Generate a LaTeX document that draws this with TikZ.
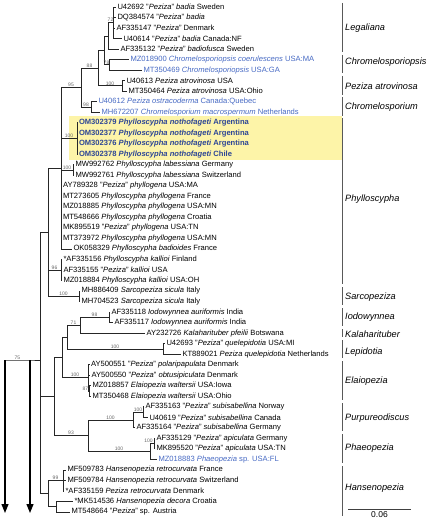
\documentclass[tikz,border=0pt]{standalone}
\usepackage{fontspec}
\setmainfont{Liberation Sans}
\usepackage{xcolor}
\usepackage{tikz}
\usetikzlibrary{arrows.meta}
\definecolor{taxblue}{RGB}{70,105,195}
\definecolor{newblue}{RGB}{45,70,150}
\definecolor{hlyellow}{RGB}{253,244,168}

\begin{document}
\begin{tikzpicture}[x=1pt, y=-1pt,
      br/.style={line width=0.8pt, draw=black!85},
      leaf/.style={anchor=west, inner xsep=1.3pt, inner ysep=0.4pt,
                   font=\fontsize{7.6}{8}\selectfont},
      bleaf/.style={leaf, text=taxblue},
      nleaf/.style={leaf, text=newblue, font=\fontsize{7.6}{8}\selectfont\bfseries},
      bs/.style={anchor=south, inner sep=0.6pt, text=black!60,
                 font=\fontsize{5}{5}\selectfont},
      clade/.style={anchor=west, inner sep=1pt, font=\fontsize{9.2}{10}\selectfont\itshape},
      cbar/.style={line width=0.8pt, draw=black!65},
      arr/.style={-{Triangle[width=7pt,length=9pt]}, line width=1.2pt}
    ]
    \useasboundingbox (0,0) rectangle (430,521);
    \fill[hlyellow] (69,116) rectangle (342,160);

    % internal nodes
    \coordinate (n72)   at (113,22.8);
    \coordinate (nLeg)  at (108,36.0);
    \coordinate (nChro) at (109,64.9);
    \coordinate (nLC)   at (104,50.4);
    \coordinate (nAtro) at (122,85.9);
    \coordinate (n88)   at (98,68.2);
    \coordinate (nCm)   at (91,107.0);
    \coordinate (n95)   at (81,87.6);
    \coordinate (nNoth) at (77,138.5);
    \coordinate (nLab)  at (73,170.1);
    \coordinate (nPH)   at (61,168.3);
    \coordinate (nKal)  at (61,270.0);
    \coordinate (nSar)  at (79,296.3);
    \coordinate (nPS)   at (48,232.3);
    \coordinate (nIod)  at (109,317.4);
    \coordinate (nIK)   at (80,325.2);
    \coordinate (nLep)  at (163,348.9);
    \coordinate (nILK)  at (67,337.0);
    \coordinate (nE2)   at (89.5,391.0);
    \coordinate (nE)    at (88,377.8);
    \coordinate (nX)    at (62,357.4);
    \coordinate (nP1)   at (143,412.0);
    \coordinate (nPur)  at (133,419.9);
    \coordinate (nPh1)  at (154,443.6);
    \coordinate (nPha)  at (150,451.5);
    \coordinate (nPP)   at (88,435.7);
    \coordinate (nY)    at (54,396.6);
    \coordinate (nH1)   at (63,480.4);
    \coordinate (nH2)   at (56,506.7);
    \coordinate (nHan)  at (48,493.6);
    \coordinate (nIn)   at (40,360.0);
    \coordinate (nR)    at (30,360.0);
    \coordinate (nRoot) at (5,360.0);
    \coordinate (aR)    at (30,513);
    \coordinate (aRoot) at (5,513);

    % taxa
    \node[leaf]  (l1)  at (116,7.0)   {U42692 "\textit{Peziza}" \textit{badia} Sweden};
    \node[leaf]  (l2)  at (116,17.5)  {DQ384574 "\textit{Peziza}" \textit{badia}};
    \node[leaf]  (l3)  at (115,28.0)  {AF335147 "\textit{Peziza}" Denmark};
    \node[leaf]  (l4)  at (122,38.6)  {U40614 "\textit{Peziza}" \textit{badia} Canada:NF};
    \node[leaf]  (l5)  at (119,49.1)  {AF335132 "\textit{Peziza}" \textit{badiofusca} Sweden};
    \node[bleaf] (l6)  at (129,59.6)  {MZ018900 \textit{Chromelosporiopsis coerulescens} USA:MA};
    \node[bleaf] (l7)  at (142,70.1)  {MT350469 \textit{Chromelosporiopsis} USA:GA};
    \node[leaf]  (l8)  at (125,80.6)  {U40613 \textit{Peziza atrovinosa} USA};
    \node[leaf]  (l9)  at (127,91.2)  {MT350464 \textit{Peziza atrovinosa} USA:Ohio};
    \node[bleaf] (l10) at (97,101.7)  {U40612 \textit{Peziza ostracoderma} Canada:Quebec};
    \node[bleaf] (l11) at (100,112.2) {MH672207 \textit{Chromelosporium macrospermum} Netherlands};
    \node[nleaf] (l12) at (77.5,122.7) {OM302379 \textit{Phylloscypha nothofageti} Argentina};
    \node[nleaf] (l13) at (77.5,133.2) {OM302377 \textit{Phylloscypha nothofageti} Argentina};
    \node[nleaf] (l14) at (77.5,143.8) {OM302376 \textit{Phylloscypha nothofageti} Argentina};
    \node[nleaf] (l15) at (77.5,154.3) {OM302378 \textit{Phylloscypha nothofageti} Chile};
    \node[leaf]  (l16) at (74,164.8)  {MW992762 \textit{Phylloscypha labessiana} Germany};
    \node[leaf]  (l17) at (74,175.3)  {MW992761 \textit{Phylloscypha labessiana} Switzerland};
    \node[leaf]  (l18) at (61.5,185.8) {AY789328 "\textit{Peziza}" \textit{phyllogena} USA:MA};
    \node[leaf]  (l19) at (61.5,196.4) {MT273605 \textit{Phylloscypha phyllogena} France};
    \node[leaf]  (l20) at (61.5,206.9) {MZ018885 \textit{Phylloscypha phyllogena} USA:MN};
    \node[leaf]  (l21) at (61.5,217.4) {MT548666 \textit{Phylloscypha phyllogena} Croatia};
    \node[leaf]  (l22) at (61.5,227.9) {MK895519 "\textit{Peziza}" \textit{phyllogena} USA:TN};
    \node[leaf]  (l23) at (61.5,238.4) {MT373972 \textit{Phylloscypha phyllogena} USA:MN};
    \node[leaf]  (l24) at (72,249.0)  {OK058329 \textit{Phylloscypha badioides} France};
    \node[leaf]  (l25) at (62,259.5)  {*AF335156 \textit{Phylloscypha kallioi} Finland};
    \node[leaf]  (l26) at (62,270.0)  {AF335155 "\textit{Peziza}" \textit{kallioi} USA};
    \node[leaf]  (l27) at (62,280.5)  {MZ018884 \textit{Phylloscypha kallioi} USA:OH};
    \node[leaf]  (l28) at (80,291.0)  {MH886409 \textit{Sarcopeziza sicula} Italy};
    \node[leaf]  (l29) at (80,301.6)  {MH704523 \textit{Sarcopeziza sicula} Italy};
    \node[leaf]  (l30) at (110,312.1) {AF335118 \textit{Iodowynnea auriformis} India};
    \node[leaf]  (l31) at (113,322.6) {AF335117 \textit{Iodowynnea auriformis} India};
    \node[leaf]  (l32) at (145,333.1) {AY232726 \textit{Kalaharituber pfeilii} Botswana};
    \node[leaf]  (l33) at (165,343.6) {U42693 "\textit{Peziza}" \textit{quelepidotia} USA:MI};
    \node[leaf]  (l34) at (181,354.2) {KT889021 \textit{Peziza quelepidotia} Netherlands};
    \node[leaf]  (l35) at (89.5,364.7) {AY500551 "\textit{Peziza}" \textit{polaripapulata} Denmark};
    \node[leaf]  (l36) at (90,375.2)  {AY500550 "\textit{Peziza}" \textit{obtusipiculata} Denmark};
    \node[leaf]  (l37) at (91,385.7)  {MZ018857 \textit{Elaiopezia waltersii} USA:Iowa};
    \node[leaf]  (l38) at (91,396.2)  {MT350468 \textit{Elaiopezia waltersii} USA:Ohio};
    \node[leaf]  (l39) at (144,406.8) {AF335163 "\textit{Peziza}" \textit{subisabellina} Norway};
    \node[leaf]  (l40) at (148,417.3) {U40619 "\textit{Peziza}" \textit{subisabellina} Canada};
    \node[leaf]  (l41) at (135,427.8) {AF335164 "\textit{Peziza}" \textit{subisabellina} Germany};
    \node[leaf]  (l42) at (155,438.3) {AF335129 "\textit{Peziza}" \textit{apiculata} Germany};
    \node[leaf]  (l43) at (155,448.8) {MK895520 "\textit{Peziza}" \textit{apiculata} USA:TN};
    \node[bleaf] (l44) at (157,459.4) {MZ018883 \textit{Phaeopezia} sp. USA:FL};
    \node[leaf]  (l45) at (66,469.9)  {MF509783 \textit{Hansenopezia retrocurvata} France};
    \node[leaf]  (l46) at (66,480.4)  {MF509784 \textit{Hansenopezia retrocurvata} Switzerland};
    \node[leaf]  (l47) at (64,490.9)  {*AF335159 \textit{Peziza retrocurvata} Denmark};
    \node[leaf]  (l48) at (73,501.4)  {*MK514536 \textit{Hansenopezia decora} Croatia};
    \node[leaf]  (l49) at (70,512.0)  {MT548664 "\textit{Peziza}" sp. Austria};

    % branches
    \foreach \t in {l1,l2,l3,l4} \draw[br] (n72) |- (\t.west);
    \draw[br] (nLeg) |- (n72);
    \draw[br] (nLeg) |- (l5.west);
    \draw[br] (nChro) |- (l6.west);
    \draw[br] (nChro) |- (l7.west);
    \draw[br] (nLC) |- (nLeg);
    \draw[br] (nLC) |- (nChro);
    \draw[br] (nAtro) |- (l8.west);
    \draw[br] (nAtro) |- (l9.west);
    \draw[br] (n88) |- (nLC);
    \draw[br] (n88) |- (nAtro);
    \draw[br] (nCm) |- (l10.west);
    \draw[br] (nCm) |- (l11.west);
    \draw[br] (n95) |- (n88);
    \draw[br] (n95) |- (nCm);
    \foreach \t in {l12,l13,l14,l15} \draw[br] (nNoth) |- (\t.west);
    \draw[br] (nLab) |- (l16.west);
    \draw[br] (nLab) |- (l17.west);
    \draw[br] (nPH) |- (n95);
    \draw[br] (nPH) |- (nNoth);
    \draw[br] (nPH) |- (nLab);
    \foreach \t in {l18,l19,l20,l21,l22,l23,l24} \draw[br] (nPH) |- (\t.west);
    \foreach \t in {l25,l26,l27} \draw[br] (nKal) |- (\t.west);
    \draw[br] (nSar) |- (l28.west);
    \draw[br] (nSar) |- (l29.west);
    \draw[br] (nPS) |- (nPH);
    \draw[br] (nPS) |- (nKal);
    \draw[br] (nPS) |- (nSar);
    \draw[br] (nIod) |- (l30.west);
    \draw[br] (nIod) |- (l31.west);
    \draw[br] (nIK) |- (nIod);
    \draw[br] (nIK) |- (l32.west);
    \draw[br] (nLep) |- (l33.west);
    \draw[br] (nLep) |- (l34.west);
    \draw[br] (nILK) |- (nIK);
    \draw[br] (nILK) |- (nLep);
    \draw[br] (nE2) |- (l37.west);
    \draw[br] (nE2) |- (l38.west);
    \draw[br] (nE) |- (l35.west);
    \draw[br] (nE) |- (l36.west);
    \draw[br] (nE) |- (nE2);
    \draw[br] (nX) |- (nILK);
    \draw[br] (nX) |- (nE);
    \draw[br] (nP1) |- (l39.west);
    \draw[br] (nP1) |- (l40.west);
    \draw[br] (nPur) |- (nP1);
    \draw[br] (nPur) |- (l41.west);
    \draw[br] (nPh1) |- (l42.west);
    \draw[br] (nPh1) |- (l43.west);
    \draw[br] (nPha) |- (nPh1);
    \draw[br] (nPha) |- (l44.west);
    \draw[br] (nPP) |- (nPur);
    \draw[br] (nPP) |- (nPha);
    \draw[br] (nY) |- (nX);
    \draw[br] (nY) |- (nPP);
    \foreach \t in {l45,l46,l47} \draw[br] (nH1) |- (\t.west);
    \draw[br] (nH2) |- (l48.west);
    \draw[br] (nH2) |- (l49.west);
    \draw[br] (nHan) |- (nH1);
    \draw[br] (nHan) |- (nH2);
    \draw[br] (nIn) |- (nPS);
    \draw[br] (nIn) |- (nY);
    \draw[br] (nIn) |- (nHan);
    \draw[br] (nRoot) -- (nR) -- (nIn);
    \draw[arr] (nR) -- (aR);
    \draw[arr] (nRoot) -- (aRoot);

    % bootstrap values
    \node[bs] (b1)  at (110.5,22.8) {72};
    \node[bs] (b2)  at (106.5,64.9) {78};
    \node[bs] (b3)  at (89.5,68.2)  {88};
    \node[bs] (b4)  at (110,85.9)   {100};
    \node[bs] (b5)  at (86,107.0)   {98};
    \node[bs] (b6)  at (71,87.6)    {95};
    \node[bs] (b7)  at (69,138.5)   {100};
    \node[bs] (b8)  at (67,170.1)   {100};
    \node[bs] (b9)  at (54.5,270.0) {96};
    \node[bs] (b10) at (63.5,296.3) {100};
    \node[bs] (b11) at (94.5,317.4) {98};
    \node[bs] (b12) at (73.5,325.2) {71};
    \node[bs] (b13) at (115,348.9)  {100};
    \node[bs] (b14) at (75,377.8)   {100};
    \node[bs, anchor=south east] (b15) at (89,391.0) {87};
    \node[bs] (b16) at (138,412.0)  {100};
    \node[bs] (b17) at (110.5,419.9) {100};
    \node[bs, anchor=south east] (b18) at (153.5,443.6) {100};
    \node[bs] (b19) at (119,451.5)  {100};
    \node[bs] (b20) at (71,435.7)   {93};
    \node[bs] (b21) at (55.5,480.4) {99};
    \node[bs] (b22) at (17.5,360.0) {75};

    % clades
    \draw[cbar] (342,3) -- (342,52);    \node[clade] (c1)  at (344,28)  {Legaliana};
    \draw[cbar] (342,55) -- (342,73);   \node[clade] (c2)  at (344,62)  {Chromelosporiopsis};
    \draw[cbar] (342,76) -- (342,95);   \node[clade] (c3)  at (344,86)  {Peziza atrovinosa};
    \draw[cbar] (342,97) -- (342,116);  \node[clade] (c4)  at (344,107) {Chromelosporium};
    \draw[cbar] (342,118) -- (342,284); \node[clade] (c5)  at (344,199) {Phylloscypha};
    \draw[cbar] (342,287) -- (342,305); \node[clade] (c6)  at (344,297) {Sarcopeziza};
    \draw[cbar] (342,308) -- (342,326); \node[clade] (c7)  at (344,317) {Iodowynnea};
    \draw[cbar] (342,329) -- (342,337); \node[clade] (c8)  at (344,334) {Kalaharituber};
    \draw[cbar] (342,340) -- (342,358); \node[clade] (c9)  at (344,352) {Lepidotia};
    \draw[cbar] (342,361) -- (342,400); \node[clade] (c10) at (344,381) {Elaiopezia};
    \draw[cbar] (342,403) -- (342,431); \node[clade] (c11) at (344,418) {Purpureodiscus};
    \draw[cbar] (342,434) -- (342,463); \node[clade] (c12) at (344,448) {Phaeopezia};
    \draw[cbar] (342,466) -- (342,516); \node[clade] (c13) at (344,488) {Hansenopezia};

    % scale
    \coordinate (s1) at (348,509);
    \coordinate (s2) at (411,509);
    \draw[line width=0.8pt, black!75] (s1) -- (s2);
    \node[font=\fontsize{8.5}{9}\selectfont, inner sep=0.5pt, anchor=north] (sc) at (379.5,510.5) {0.06};
  \end{tikzpicture}
\end{document}
